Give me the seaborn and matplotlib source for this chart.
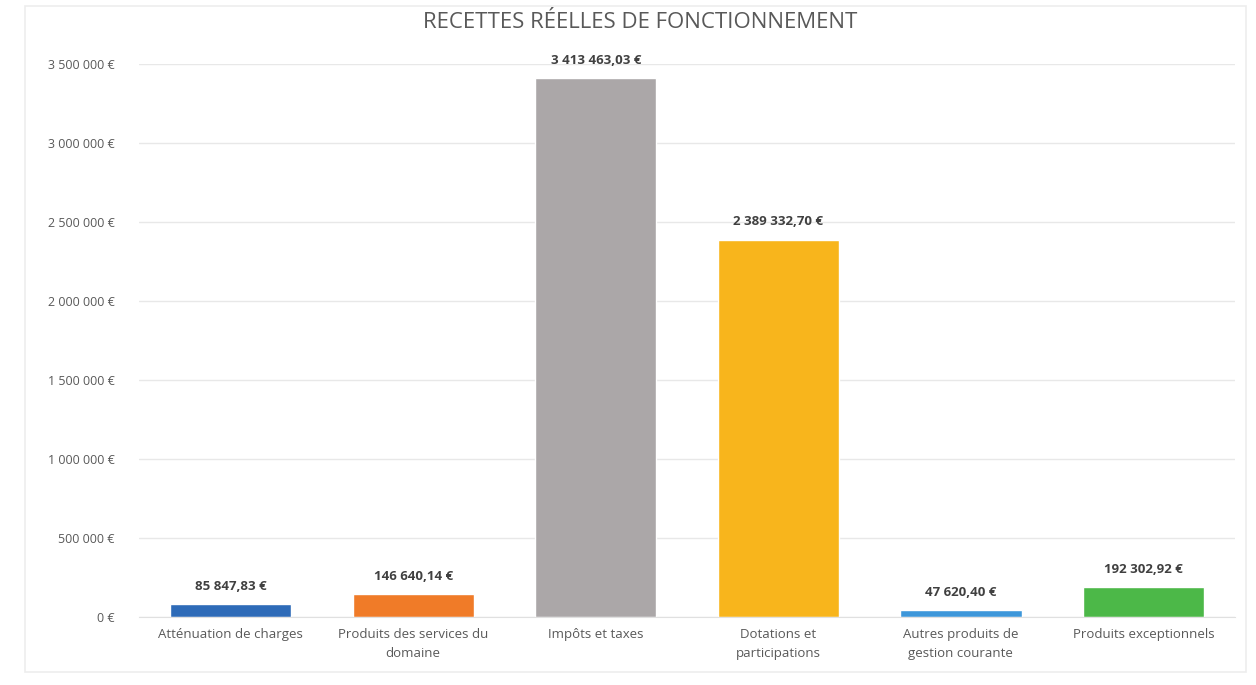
import matplotlib
matplotlib.use('Agg')
import matplotlib.pyplot as plt
import seaborn as sns
import pandas as pd

# ── Data ───────────────────────────────────────────────────────────────────────
categories = [
    "Atténuation de charges",
    "Produits des services du\ndomaine",
    "Impôts et taxes",
    "Dotations et\nparticipations",
    "Autres produits de\ngestion courante",
    "Produits exceptionnels",
]
values = [85847.83, 146640.14, 3413463.03, 2389332.70, 47620.40, 192302.92]
colors = ["#2E6BB8", "#F07B28", "#ABA7A8", "#F8B51C", "#3D97DA", "#4CB848"]
yticks = [0, 500000, 1000000, 1500000, 2000000, 2500000, 3000000, 3500000]


def fmt_eur(v, dec=2):
    s = f"{v:,.{dec}f}".replace(",", " ").replace(".", ",")
    return s + " €"


sns.set_style("white")
plt.rcParams['font.family'] = ['Open Sans', 'DejaVu Sans']

df = pd.DataFrame({"cat": categories, "val": values})

fig = plt.figure(figsize=(12.56, 6.85), dpi=100)
# faint chart border
fig.patches.append(plt.Rectangle((0.02, 0.019), 0.972, 0.972, transform=fig.transFigure,
                                 fill=False, edgecolor="#EDEDED", linewidth=1.2))

ax = fig.add_axes([0.111, 0.099, 0.872, 0.8076])
sns.barplot(data=df, x="cat", y="val", hue="cat", palette=colors,
            width=0.665, legend=False, ax=ax, saturation=1)

ax.set_ylim(0, 3500000)
ax.set_yticks(yticks)
ax.set_yticklabels([fmt_eur(t, 0) for t in yticks], fontsize=9, color="#595959")
ax.set_xticks(range(len(categories)))
ax.set_xticklabels(categories, fontsize=9.5, color="#595959", linespacing=1.6)
ax.tick_params(axis='x', length=0, pad=8)
ax.tick_params(axis='y', length=0, pad=18)
ax.set_xlabel("")
ax.set_ylabel("")
ax.grid(axis='y', color="#E8E8E8", linewidth=1)
ax.set_axisbelow(True)
for s in ["top", "right", "left"]:
    ax.spines[s].set_visible(False)
ax.spines["bottom"].set_color("#E0E0E0")

for i, v in enumerate(values):
    ax.annotate(fmt_eur(v), (i, v), xytext=(0, 8), textcoords="offset points",
                ha="center", va="bottom", fontsize=9.5, fontweight="bold",
                color="#404040")

fig.text(0.51, 0.967, "RECETTES RÉELLES DE FONCTIONNEMENT", ha="center",
         va="center", fontsize=16, color="#595959")

fig.savefig("out.png", dpi=100)
